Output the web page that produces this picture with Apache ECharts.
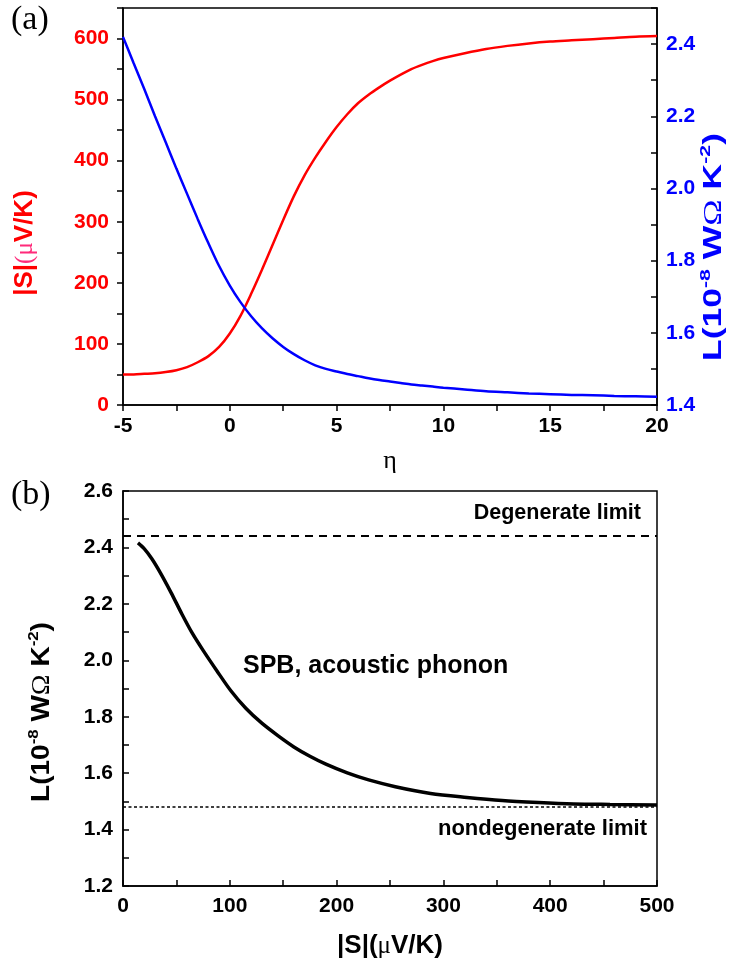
<!DOCTYPE html>
<html><head><meta charset="utf-8">
<script src="https://cdn.jsdelivr.net/npm/echarts@6/dist/echarts.min.js"></script>
<style>html,body{margin:0;padding:0;background:#fff}#c{width:729px;height:968px}</style>
</head><body><div id="c"></div>
<script>
// ---- Panel (a): |S| and L versus reduced Fermi level eta ----
const etaValues = [-5, -4.5, -4, -3.5, -3, -2.5, -2, -1.5, -1, -0.5, 0, 0.5, 1, 1.5, 2, 2.5, 3, 3.5, 4, 4.5, 5, 5.5, 6, 6.5, 7, 7.5, 8, 8.5, 9, 9.5, 10, 11, 12, 13, 14, 15, 16, 17, 18, 19, 20];
const seebeckA = [50, 50, 51, 52, 54, 57, 62, 70, 80, 95, 117, 146, 182, 221, 262, 303, 342, 376, 405, 431, 455, 476, 494, 508, 520, 531, 541, 550, 557, 563, 568, 576, 583, 588, 592, 595, 597, 599, 601, 603, 604];
const lorenzA = [2.42, 2.347, 2.275, 2.2, 2.128, 2.055, 1.985, 1.915, 1.848, 1.785, 1.731, 1.685, 1.646, 1.613, 1.585, 1.561, 1.541, 1.524, 1.51, 1.5, 1.493, 1.486, 1.48, 1.474, 1.469, 1.465, 1.461, 1.457, 1.454, 1.451, 1.448, 1.443, 1.438, 1.435, 1.432, 1.43, 1.428, 1.427, 1.425, 1.424, 1.423];

// ---- Panel (b): L versus |S| ----
const seebeckB = [14, 20, 27, 35, 45, 55, 65, 75, 88, 101, 115, 130, 145, 160, 175, 190, 210, 230, 255, 288, 322, 355, 389, 422, 456, 500];
const lorenzB = [2.416, 2.395, 2.36, 2.31, 2.24, 2.165, 2.095, 2.035, 1.962, 1.892, 1.83, 1.777, 1.733, 1.693, 1.66, 1.632, 1.601, 1.576, 1.552, 1.528, 1.514, 1.503, 1.496, 1.491, 1.489, 1.487];
const degenerateLimit = 2.44;
const nondegenerateLimit = 1.48;

// axis ranges / ticks
const etaTicks = {min: -5, max: 20, interval: 2.5};
const sTicks = {min: 0, max: 650, interval: 50};
const lTicksA = {min: 1.4, max: 2.5, interval: 0.1};
const sTicksB = {min: 0, max: 500, interval: 50};
const lTicksB = {min: 1.2, max: 2.6, interval: 0.1};

const SANS = '"Liberation Sans", Arial, sans-serif';
const SERIF = '"Liberation Serif", "Times New Roman", serif';
const RED = '#ff0000', BLUE = '#0000ff', BLACK = '#000000';

function zip(a, b) { return a.map((v, i) => [v, b[i]]); }
const fmtEvery = (step, dec) => v => {
  const k = Math.round(v / step * 1000) / 1000;
  return Math.abs(k - Math.round(k)) < 1e-6 ? v.toFixed(dec) : '';
};

function axisBase(color, inside, fmt, margin) {
  return {
    axisLine: {show: true, onZero: false, lineStyle: {color: BLACK, width: 1.5}},
    axisTick: {show: true, inside: inside, length: 6, lineStyle: {color: BLACK, width: 1.5}},
    axisLabel: {color: color, fontSize: 21, fontWeight: 'bold', fontFamily: SANS, margin: margin, formatter: fmt},
    splitLine: {show: false}
  };
}

const chart = echarts.init(document.getElementById('c'));
const gridA = {left: 123, top: 8, width: 534, height: 397};
const gridB = {left: 123, top: 491, width: 534, height: 395};

const supPad = [0, 0, 16, 0];
function lTitleRich(color) {
  return {
    b: {fill: color, fontSize: 25, fontWeight: 'bold', fontFamily: SANS},
    s: {fill: color, fontSize: 15, fontWeight: 'bold', fontFamily: SANS, padding: supPad},
    o: {fill: color, fontSize: 25, fontWeight: 'normal', fontFamily: SERIF}
  };
}
function sTitleRich(color, muColor) {
  return {
    b: {fill: color, fontSize: 26, fontWeight: 'bold', fontFamily: SANS},
    m: {fill: muColor, fontSize: 25, fontWeight: 'normal', fontFamily: SERIF}
  };
}
function txt(x, y, text, rich, rot, sx) {
  return {
    type: 'text', x: x, y: y, rotation: rot || 0, scaleX: sx || 1, silent: true,
    style: {text: text, rich: rich, align: 'center', textAlign: 'center',
            verticalAlign: 'middle', textVerticalAlign: 'middle'}
  };
}
function plain(x, y, text, size, weight, family, align) {
  return {
    type: 'text', x: x, y: y, silent: true,
    style: {text: text, fill: BLACK, fontSize: size, fontWeight: weight, fontFamily: family,
            align: align, textAlign: align, verticalAlign: 'middle', textVerticalAlign: 'middle'}
  };
}

const lineCommon = {showSymbol: false, smooth: 0.3, z: 3};

chart.setOption({
  animation: false,
  backgroundColor: '#ffffff',
  grid: [
    Object.assign({show: true, borderColor: BLACK, borderWidth: 1.5, backgroundColor: 'transparent'}, gridA),
    Object.assign({show: true, borderColor: BLACK, borderWidth: 1.5, backgroundColor: 'transparent'}, gridB)
  ],
  xAxis: [
    Object.assign({type: 'value', gridIndex: 0, position: 'bottom'}, etaTicks,
      axisBase(BLACK, false, fmtEvery(5, 0), 11)),
    Object.assign({type: 'value', gridIndex: 1, position: 'bottom'}, sTicksB,
      axisBase(BLACK, true, fmtEvery(100, 0), 10))
  ],
  yAxis: [
    Object.assign({type: 'value', gridIndex: 0, position: 'left'}, sTicks,
      axisBase(RED, false, fmtEvery(100, 0), 14)),
    Object.assign({type: 'value', gridIndex: 0, position: 'right'}, lTicksA,
      axisBase(BLUE, true, fmtEvery(0.2, 1), 9)),
    Object.assign({type: 'value', gridIndex: 1, position: 'left'}, lTicksB,
      axisBase(BLACK, true, fmtEvery(0.2, 1), 10))
  ],
  series: [
    Object.assign({type: 'line', xAxisIndex: 0, yAxisIndex: 0, data: zip(etaValues, seebeckA),
     lineStyle: {color: RED, width: 2.5}, itemStyle: {color: RED}}, lineCommon),
    Object.assign({type: 'line', xAxisIndex: 0, yAxisIndex: 1, data: zip(etaValues, lorenzA),
     lineStyle: {color: BLUE, width: 2.5}, itemStyle: {color: BLUE}}, lineCommon),
    Object.assign({type: 'line', xAxisIndex: 1, yAxisIndex: 2, data: zip(seebeckB, lorenzB),
     lineStyle: {color: BLACK, width: 3.5}, itemStyle: {color: BLACK},
     markLine: {
       silent: true, symbol: 'none', label: {show: false}, animation: false,
       data: [
         {yAxis: degenerateLimit, lineStyle: {color: BLACK, width: 2, type: [8, 6]}},
         {yAxis: nondegenerateLimit, lineStyle: {color: BLACK, width: 1.6, type: [3, 2.5]}}
       ]
     }}, lineCommon)
  ],
  graphic: [
    plain(11, 20, '(a)', 34, 'normal', SERIF, 'left'),
    plain(11, 495, '(b)', 34, 'normal', SERIF, 'left'),
    txt(25, 243, '{b||S|}{m|(μ}{b|V/K)}', sTitleRich(RED, '#ff2a7a'), Math.PI / 2, 1),
    txt(714, 247, '{b|L(10}{s|-8}{b| W}{o|Ω}{b| K}{s|-2}{b|)}', lTitleRich(BLUE), Math.PI / 2, 1.42),
    txt(42, 712, '{b|L(10}{s|-8}{b| W}{o|Ω}{b| K}{s|-2}{b|)}', lTitleRich(BLACK), Math.PI / 2, 1.12),
    txt(390, 946, '{b||S|(}{m|μ}{b|V/K)}', sTitleRich(BLACK, BLACK), 0, 1),
    plain(390, 461, 'η', 26, 'normal', SERIF, 'center'),
    plain(641, 513, 'Degenerate limit', 21.5, 'bold', SANS, 'right'),
    plain(243, 666, 'SPB, acoustic phonon', 25, 'bold', SANS, 'left'),
    plain(647, 829, 'nondegenerate limit', 22, 'bold', SANS, 'right')
  ]
});
</script>
</body></html>
